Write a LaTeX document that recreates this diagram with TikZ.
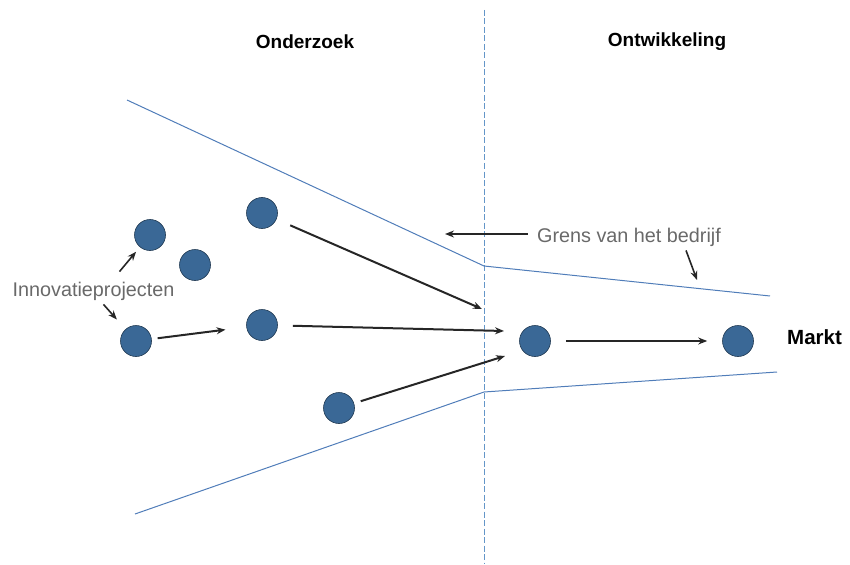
\documentclass[tikz,border=0pt]{standalone}
\usepackage{fontspec}
\setmainfont{Liberation Sans}
\usetikzlibrary{arrows.meta}
\definecolor{dotblue}{RGB}{58,104,150}
\definecolor{lineblue}{RGB}{80,125,185}
\definecolor{dashblue}{RGB}{100,150,200}
\definecolor{labelgrey}{RGB}{105,105,105}
\begin{document}
\begin{tikzpicture}[x=1pt,y=-1pt,
  dot/.style={circle,fill=dotblue,draw=dotblue!55!black,line width=0.6pt,minimum size=31pt,inner sep=0pt},
  bnd/.style={draw=lineblue,line width=1pt},
  divider/.style={draw=dashblue,line width=0.9pt,dash pattern=on 6pt off 2.5pt},
  arr/.style={-{Stealth[length=9pt,width=7pt]},line width=2pt,draw=black!85},
  head/.style={font=\fontsize{19}{22}\selectfont\bfseries,text=black,inner sep=0pt},
  lab/.style={font=\fontsize{19.8}{23}\selectfont,text=labelgrey,inner sep=1pt}]
\useasboundingbox (0,0) rectangle (850,564);
% divider
\coordinate (dtop) at (484,10);
\coordinate (dbot) at (484,564);
\draw[divider] (dtop) -- (dbot);
% company boundary
\coordinate (u1) at (127,100);
\coordinate (u2) at (484,266);
\coordinate (u3) at (770,296);
\coordinate (l1) at (135,514);
\coordinate (l2) at (484,392);
\coordinate (l3) at (777,372);
\draw[bnd] (u1) -- (u2) -- (u3);
\draw[bnd] (l1) -- (l2) -- (l3);
% headings
\node[head] (onderzoek) at (305,42) {Onderzoek};
\node[head] (ontw) at (667,42) {Ontwikkeling};
\node[head,font=\fontsize{20.5}{23}\selectfont\bfseries,anchor=west] (markt) at (787,337) {Markt};
% projects
\node[dot] (c1) at (150,235) {};
\node[dot] (c2) at (195,265) {};
\node[dot] (c3) at (262,213) {};
\node[dot] (c4) at (262,325) {};
\node[dot] (c5) at (136,341) {};
\node[dot] (c6) at (339,408) {};
\node[dot] (c7) at (535,341) {};
\node[dot] (c8) at (738,341) {};
% labels
\node[lab] (innov) at (93.5,291) {Innovatieprojecten};
\node[lab] (grens) at (629,237) {Grens van het bedrijf};
% free ends
\coordinate (t1) at (482,309);
\coordinate (t2) at (504,331);
\coordinate (t3) at (505,356);
\coordinate (g1) at (445,234);
\coordinate (g2) at (697,280);
% arrows
\draw[arr,shorten <=15pt] (c3) -- (t1);
\draw[arr,shorten <=15pt] (c4) -- (t2);
\draw[arr,shorten <=7pt] (c6) -- (t3);
\draw[arr,shorten <=15pt,shorten >=15pt] (c7) -- (c8);
\draw[arr,shorten <=6pt,shorten >=21pt] (c5) -- (c4);
\draw[arr,line width=1.6pt,shorten >=6pt] ([xshift=26pt,yshift=9pt]innov.north) -- (c1);
\draw[arr,line width=1.6pt,shorten >=13pt] ([xshift=10pt,yshift=-3pt]innov.south) -- (c5);
\draw[arr,line width=1.6pt] ([xshift=-8pt,yshift=3pt]grens.west) -- (g1);
\draw[arr,line width=1.6pt] ([xshift=57pt,yshift=-3pt]grens.south) -- (g2);
\end{tikzpicture}
\end{document}
